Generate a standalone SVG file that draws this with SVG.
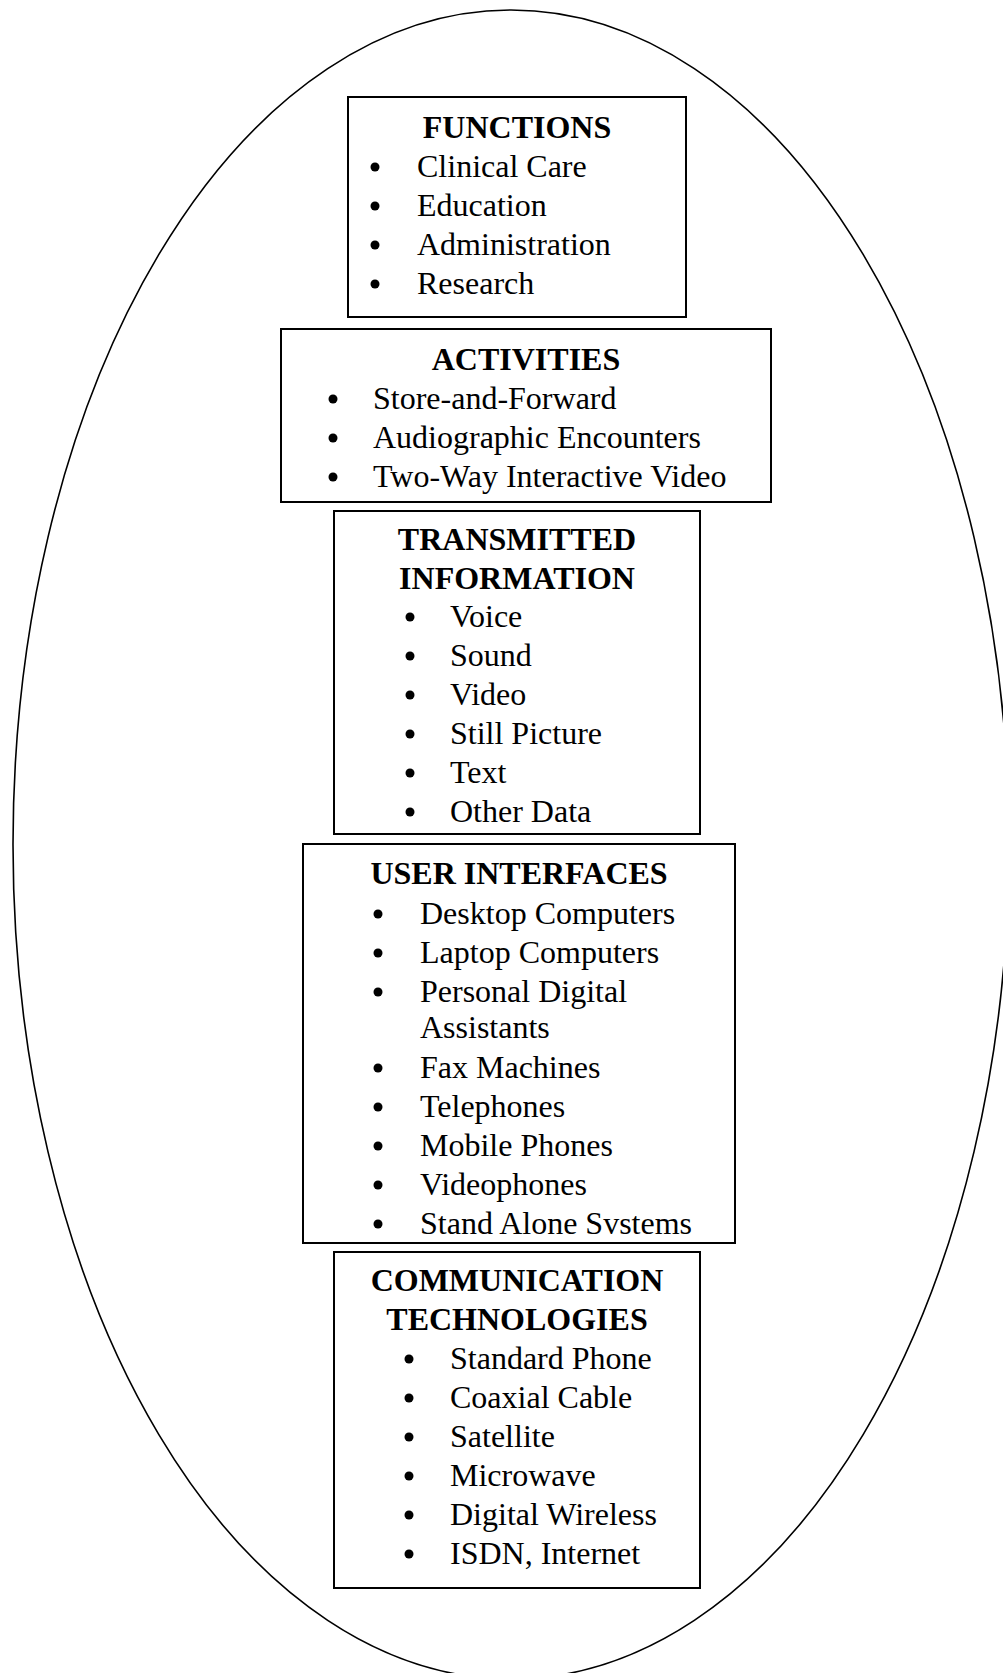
<svg xmlns="http://www.w3.org/2000/svg" width="1003" height="1673" viewBox="0 0 1003 1673">
<style>
.box{fill:#fff;stroke:#000;stroke-width:2}
.t{font-family:"Liberation Serif","Times New Roman",serif;font-size:32px;fill:#000}
.h{font-weight:bold;text-anchor:middle}
.b{fill:#000}
</style>
<rect width="1003" height="1673" fill="#fff"/>
<g id="frame"><ellipse cx="511" cy="844.5" rx="498" ry="834.5" fill="none" stroke="#000" stroke-width="1.6"/></g>
<g id="connectors"></g>
<g id="functions">
<rect class="box" x="348" y="97" width="338" height="220"/>
<text class="t h" x="517" y="138">FUNCTIONS</text>
<circle class="b" cx="375" cy="167" r="4.5"/><text class="t" x="417" y="177">Clinical Care</text>
<circle class="b" cx="375" cy="206" r="4.5"/><text class="t" x="417" y="216">Education</text>
<circle class="b" cx="375" cy="245" r="4.5"/><text class="t" x="417" y="255">Administration</text>
<circle class="b" cx="375" cy="284" r="4.5"/><text class="t" x="417" y="294">Research</text>
</g>
<g id="activities">
<rect class="box" x="281" y="329" width="490" height="173"/>
<text class="t h" x="526" y="370">ACTIVITIES</text>
<circle class="b" cx="333" cy="399" r="4.5"/><text class="t" x="373" y="409">Store-and-Forward</text>
<circle class="b" cx="333" cy="438" r="4.5"/><text class="t" x="373" y="448">Audiographic Encounters</text>
<circle class="b" cx="333" cy="477" r="4.5"/><text class="t" x="373" y="487">Two-Way Interactive Video</text>
</g>
<g id="transmitted">
<rect class="box" x="334" y="511" width="366" height="323"/>
<text class="t h" x="517" y="550">TRANSMITTED</text>
<text class="t h" x="517" y="589">INFORMATION</text>
<circle class="b" cx="410" cy="617" r="4.5"/><text class="t" x="450" y="627">Voice</text>
<circle class="b" cx="410" cy="656" r="4.5"/><text class="t" x="450" y="666">Sound</text>
<circle class="b" cx="410" cy="695" r="4.5"/><text class="t" x="450" y="705">Video</text>
<circle class="b" cx="410" cy="734" r="4.5"/><text class="t" x="450" y="744">Still Picture</text>
<circle class="b" cx="410" cy="773" r="4.5"/><text class="t" x="450" y="783">Text</text>
<circle class="b" cx="410" cy="812" r="4.5"/><text class="t" x="450" y="822">Other Data</text>
</g>
<g id="user-interfaces">
<rect class="box" x="303" y="844" width="432" height="399"/>
<text class="t h" x="519" y="884">USER INTERFACES</text>
<circle class="b" cx="378" cy="914" r="4.5"/><text class="t" x="420" y="924">Desktop Computers</text>
<circle class="b" cx="378" cy="953" r="4.5"/><text class="t" x="420" y="963">Laptop Computers</text>
<circle class="b" cx="378" cy="992" r="4.5"/><text class="t" x="420" y="1002">Personal Digital</text>
<text class="t" x="420" y="1038">Assistants</text>
<circle class="b" cx="378" cy="1068" r="4.5"/><text class="t" x="420" y="1078">Fax Machines</text>
<circle class="b" cx="378" cy="1107" r="4.5"/><text class="t" x="420" y="1117">Telephones</text>
<circle class="b" cx="378" cy="1146" r="4.5"/><text class="t" x="420" y="1156">Mobile Phones</text>
<circle class="b" cx="378" cy="1185" r="4.5"/><text class="t" x="420" y="1195">Videophones</text>
<circle class="b" cx="378" cy="1224" r="4.5"/><text class="t" x="420" y="1234">Stand Alone Svstems</text>
</g>
<g id="communication">
<rect class="box" x="334" y="1252" width="366" height="336"/>
<text class="t h" x="517" y="1291">COMMUNICATION</text>
<text class="t h" x="517" y="1330">TECHNOLOGIES</text>
<circle class="b" cx="409" cy="1359" r="4.5"/><text class="t" x="450" y="1369">Standard Phone</text>
<circle class="b" cx="409" cy="1398" r="4.5"/><text class="t" x="450" y="1408">Coaxial Cable</text>
<circle class="b" cx="409" cy="1437" r="4.5"/><text class="t" x="450" y="1447">Satellite</text>
<circle class="b" cx="409" cy="1476" r="4.5"/><text class="t" x="450" y="1486">Microwave</text>
<circle class="b" cx="409" cy="1515" r="4.5"/><text class="t" x="450" y="1525">Digital Wireless</text>
<circle class="b" cx="409" cy="1554" r="4.5"/><text class="t" x="450" y="1564">ISDN, Internet</text>
</g>
</svg>
